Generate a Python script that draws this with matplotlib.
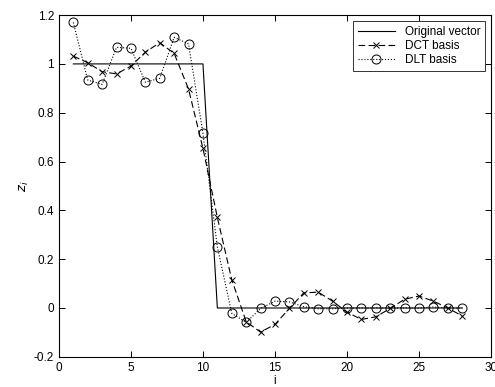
import numpy as np
import matplotlib
matplotlib.use('Agg')
import matplotlib.pyplot as plt
from matplotlib.ticker import FormatStrFormatter

plt.rcParams['font.family'] = ['Liberation Sans', 'DejaVu Sans']

# data
i = np.arange(1, 29)
original = [1] * 10 + [0] * 18
dct = [1.032, 1.005, 0.968, 0.959, 0.991, 1.048, 1.087, 1.043, 0.897, 0.654,
       0.371, 0.116, -0.056, -0.099, -0.067, -0.002, 0.062, 0.065, 0.028, -0.017,
       -0.047, -0.036, -0.002, 0.036, 0.049, 0.028, 0.0, -0.033]
dlt = [1.170, 0.934, 0.916, 1.068, 1.064, 0.925, 0.941, 1.109, 1.082, 0.716,
       0.250, -0.022, -0.059, -0.002, 0.028, 0.025, 0.005, -0.003, -0.003, 0.0,
       0.0, 0.0, 0.0, 0.0, 0.0, 0.004, 0.0, 0.0]

fig = plt.figure(figsize=(4.95, 3.87), dpi=100)
ax = fig.add_axes([0.119, 0.078, 0.873, 0.883])

ax.plot(i, original, '-', color='black', linewidth=0.8, label='Original vector')
ax.plot(i, dct, '--', color='black', linewidth=0.8, dashes=(6, 3), marker='x',
        markersize=4.5, markeredgewidth=0.7, label='DCT basis')
ax.plot(i, dlt, ':', color='black', linewidth=0.8, marker='o', markersize=6.5,
        markerfacecolor='none', markeredgewidth=0.7, label='DLT basis')

ax.set_xlim(0, 30)
ax.set_ylim(-0.2, 1.2)
ax.set_xticks(range(0, 31, 5))
ax.set_yticks(np.arange(-0.2, 1.21, 0.2))
ax.yaxis.set_major_formatter(FormatStrFormatter('%g'))
ax.tick_params(direction='in', top=True, right=True, labelsize=8.5, length=4, width=0.7)
for s in ax.spines.values():
    s.set_linewidth(0.8)

ax.set_xlabel('i', fontsize=8.5, labelpad=1)
ax.set_ylabel('$z_i$', fontsize=9.5, labelpad=2)

leg = ax.legend(loc='upper right', fontsize=8.5, fancybox=False, edgecolor='black',
                borderaxespad=0.5, handlelength=3.2, labelspacing=0.2, borderpad=0.4)
leg.get_frame().set_linewidth(0.7)

fig.savefig('out.png', dpi=100)
